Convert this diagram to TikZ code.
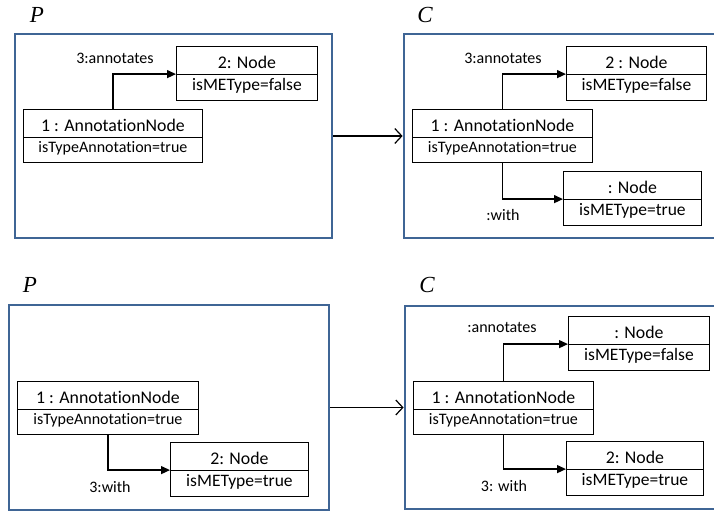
\documentclass[tikz,border=0pt]{standalone}
\usepackage{fontspec}
\setmainfont{Carlito}[Ligatures=NoCommon]
\newfontfamily\pcfont{Liberation Serif}
\usetikzlibrary{shapes.multipart,arrows.meta}
\definecolor{panelblue}{RGB}{63,101,149}
\newcommand{\toppart}[1]{\rule[-1.25pt]{0pt}{19.25pt}\fontsize{17.8}{20}\selectfont #1}
\newcommand{\botpart}[1]{\rule[-6.25pt]{0pt}{14.25pt}\fontsize{17.5}{20}\selectfont #1}
\newcommand{\botsmall}[1]{\rule[-5.5pt]{0pt}{14.25pt}\fontsize{16}{18}\selectfont #1}
\tikzset{
  obj/.style={rectangle split, rectangle split parts=2, draw=black, line width=0.9pt,
    inner xsep=2pt, inner ysep=3.75pt, align=center, anchor=north west,
    minimum height=55pt},
  panel/.style={draw=panelblue, line width=2.8pt, inner sep=0pt},
  link/.style={draw=black, line width=1.3pt, -{Triangle[length=9pt,width=8pt]}},
  trans/.style={draw=black, line width=1.1pt, -{Straight Barb[length=7pt,width=15pt,line width=1.2pt]}},
  lbl/.style={font=\fontsize{16}{18}\selectfont, inner sep=0pt},
  title/.style={font=\pcfont\itshape\fontsize{23}{26}\selectfont, inner sep=0pt}
}
\begin{document}
\begin{tikzpicture}[x=1pt,y=-1pt]
\clip (0,0) rectangle (714,513);
% panels
\node[panel, minimum width=317pt, minimum height=204pt] (P1) at (173.5,136) {};
\node[panel, minimum width=321pt, minimum height=204pt] (C1) at (564.5,136) {};
\node[panel, minimum width=320pt, minimum height=205pt] (P2) at (169,407.5) {};
\node[panel, minimum width=320pt, minimum height=203pt] (C2) at (565,407.5) {};
\node[title] (tP1) at (37,15) {P};
\node[title] (tC1) at (425,15) {C};
\node[title] (tP2) at (30,285) {P};
\node[title] (tC2) at (427,285) {C};
\draw[trans] (P1.east) -- (C1.west);
\draw[trans] (P2.east) -- (C2.west);

% top-left
\node[obj, minimum width=179pt] (a1) at (23,109) {\toppart{1 : AnnotationNode} \nodepart{two}\botsmall{isTypeAnnotation=true}};
\node[obj, minimum width=141pt] (b1) at (176,46) {\toppart{2: Node} \nodepart{two}\botpart{isMEType=false}};
\draw[link] (a1.north) |- (b1.text split west);
\node[lbl] (l1) at (115,58) {3:annotates};

% top-right
\node[obj, minimum width=180pt] (a2) at (412,109) {\toppart{1 : AnnotationNode} \nodepart{two}\botsmall{isTypeAnnotation=true}};
\node[obj, minimum width=140pt] (b2) at (566,46) {\toppart{2 : Node} \nodepart{two}\botpart{isMEType=false}};
\node[obj, minimum width=138pt] (c2) at (563,171) {\toppart{: Node} \nodepart{two}\botpart{isMEType=true}};
\draw[link] (a2.north) |- (b2.text split west);
\draw[link] (a2.south) |- (c2.text split west);
\node[lbl] (l2) at (503,58) {3:annotates};
\node[lbl] (l3) at (503,215) {:with};

% bottom-left
\node[obj, minimum width=181pt, minimum height=53pt] (a3) at (17,381) {\toppart{1 : AnnotationNode} \nodepart{two}\botsmall{isTypeAnnotation=true}};
\node[obj, minimum width=138pt] (b3) at (170,442) {\toppart{2: Node} \nodepart{two}\botpart{isMEType=true}};
\draw[link] (a3.south) |- (b3.text split west);
\node[lbl] (l4) at (110,487) {3:with};

% bottom-right
\node[obj, minimum width=180pt, minimum height=53pt] (a4) at (413,381) {\toppart{1 : AnnotationNode} \nodepart{two}\botsmall{isTypeAnnotation=true}};
\node[obj, minimum width=141pt] (b4) at (568,316) {\toppart{: Node} \nodepart{two}\botpart{isMEType=false}};
\node[obj, minimum width=137pt] (c4) at (566,441) {\toppart{2: Node} \nodepart{two}\botpart{isMEType=true}};
\draw[link] (a4.north) |- (b4.text split west);
\draw[link] (a4.south) |- (c4.text split west);
\node[lbl] (l5) at (502,328) {:annotates};
\node[lbl] (l6) at (504,486) {3: with};
\end{tikzpicture}
\end{document}
